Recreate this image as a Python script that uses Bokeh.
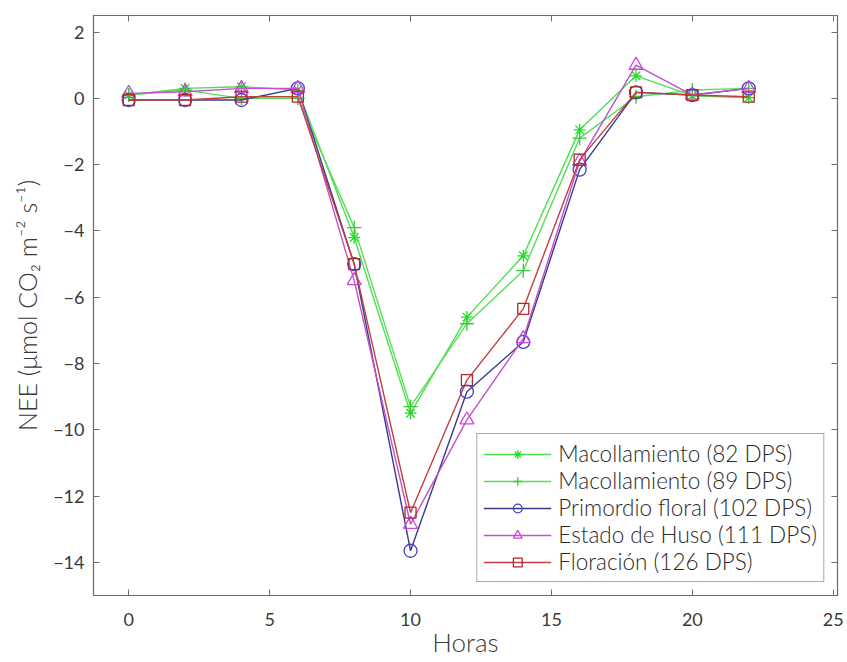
from bokeh.plotting import figure
from bokeh.models import (Range1d, LinearAxis, FixedTicker, Legend, LegendItem)
from bokeh.embed import file_html
from bokeh.resources import INLINE

horas = [0, 2, 4, 6, 8, 10, 12, 14, 16, 18, 20, 22]

mac82 = [0.10, 0.30, 0.35, 0.25, -4.20, -9.50, -6.60, -4.75, -0.95, 0.68, 0.08, 0.02]
mac89 = [0.10, 0.25, 0.00, 0.00, -3.90, -9.30, -6.80, -5.20, -1.20, 0.05, 0.25, 0.30]
prim102 = [-0.05, -0.05, -0.05, 0.30, -5.00, -13.65, -8.85, -7.35, -2.15, 0.18, 0.10, 0.30]
huso111 = [0.15, 0.20, 0.30, 0.30, -5.50, -12.85, -9.70, -7.25, -1.90, 1.00, 0.10, 0.30]
flor126 = [-0.05, -0.05, 0.05, 0.05, -5.00, -12.50, -8.50, -6.35, -1.85, 0.18, 0.10, 0.05]

labels = ["Macollamiento (82 DPS)", "Macollamiento (89 DPS)",
          "Primordio floral (102 DPS)", "Estado de Huso (111 DPS)",
          "Floración (126 DPS)"]

x_ticks = [0, 5, 10, 15, 20, 25]
y_ticks = [-14, -12, -10, -8, -6, -4, -2, 0, 2]

FONT = "Lato"
LIGHT = "Lato Light"
AX = "#6b6b6b"
TXT = "#3a3a3a"

p = figure(width=847, height=662, output_backend="svg", toolbar_location=None,
           x_range=Range1d(-1.25, 25.15), y_range=Range1d(-15, 2.5),
           min_border_left=93, min_border_right=10, min_border_top=15,
           min_border_bottom=67)
p.xgrid.visible = False
p.ygrid.visible = False
p.outline_line_color = AX
p.outline_line_width = 1.2
p.background_fill_color = "white"
p.border_fill_color = "white"

def style_axis(ax, show_labels=True):
    ax.axis_line_color = AX
    ax.major_tick_line_color = AX
    ax.major_tick_in = 6
    ax.major_tick_out = 0
    ax.minor_tick_line_color = None
    ax.major_label_text_font = FONT
    ax.major_label_text_font_size = "18px"
    ax.major_label_text_color = TXT
    if not show_labels:
        ax.major_label_text_alpha = 0
        ax.major_label_text_font_size = "1px"

p.xaxis.ticker = FixedTicker(ticks=x_ticks)
p.yaxis.ticker = FixedTicker(ticks=y_ticks)
p.yaxis.major_label_overrides = {v: str(v).replace("-", "\u2212") for v in y_ticks}
style_axis(p.xaxis[0])
style_axis(p.yaxis[0])
p.xaxis.axis_label = "Horas"
p.xaxis.axis_label_text_font = LIGHT
p.xaxis.axis_label_text_font_size = "26px"
p.xaxis.axis_label_text_font_style = "normal"
p.xaxis.axis_label_text_color = TXT
p.xaxis.axis_label_standoff = -3
p.xaxis.major_label_standoff = 17
p.yaxis.axis_label = "NEE (\u03bcmol CO\u2082 m\u207b\u00b2 s\u207b\u00b9)"
p.yaxis.axis_label_text_font = LIGHT
p.yaxis.axis_label_text_font_size = "25px"
p.yaxis.axis_label_text_font_style = "normal"
p.yaxis.axis_label_text_color = TXT
p.yaxis.axis_label_standoff = 8
p.yaxis.major_label_standoff = 9

top = LinearAxis(ticker=FixedTicker(ticks=x_ticks))
style_axis(top, False)
p.add_layout(top, "above")
right = LinearAxis(ticker=FixedTicker(ticks=y_ticks))
style_axis(right, False)
p.add_layout(right, "right")

series = [
    (mac82, "asterisk", "#4ee04e", "#22dd22", 12),
    (mac89, "cross", "#5ade5a", "#33cc33", 14),
    (prim102, "circle", "#3a3a8a", "#4040c8", 13),
    (huso111, "triangle", "#c050d0", "#cc44dd", 14),
    (flor126, "square", "#c04040", "#b02828", 11),
]

items = []
for (vals, marker, lc, mc, size), lab in zip(series, labels):
    l = p.line(horas, vals, line_color=lc, line_width=1.4)
    s = p.scatter(horas, vals, marker=marker, size=size, line_color=mc,
                  fill_color=None, line_width=1.3)
    items.append(LegendItem(label=lab, renderers=[l, s]))

leg = Legend(items=items, location="bottom_right")
leg.label_text_font = LIGHT
leg.label_text_font_size = "22.5px"
leg.label_text_color = "#2a2a2a"
leg.border_line_color = "#555555"
leg.border_line_width = 1.2
leg.glyph_width = 68
leg.glyph_height = 22
leg.label_height = 22
leg.spacing = 0
leg.padding = 6
leg.margin = 13
leg.label_standoff = 7
leg.background_fill_alpha = 1
p.add_layout(leg, "center")

open("out.html", "w").write(file_html(p, INLINE))
